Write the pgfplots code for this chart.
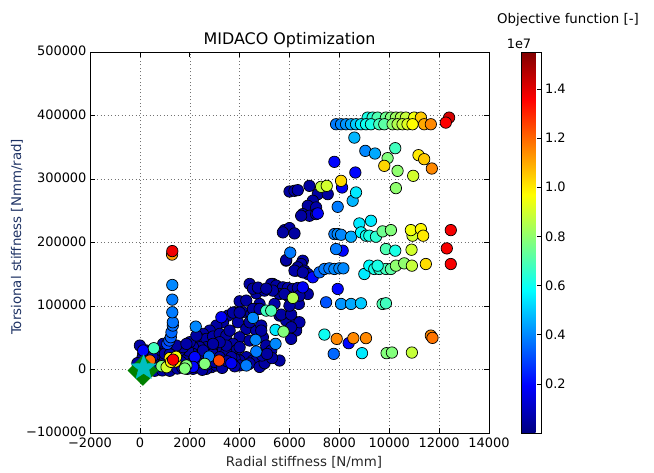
\documentclass[border=0pt]{standalone}
\usepackage{fontspec}
\setmainfont{DejaVu Sans}
\usepackage{pgfplots}
\usepackage{pgfplotstable}
\pgfplotsset{compat=1.18}
\definecolor{mgreen}{RGB}{0,128,0}
\definecolor{mcyan}{RGB}{0,191,191}
\definecolor{ylab}{RGB}{30,50,100}
\pgfdeclareplotmark{fstar}{%
  \pgfpathmoveto{\pgfpointpolar{90}{\pgfplotmarksize}}%
  \pgfpathlineto{\pgfpointpolar{126}{0.42\pgfplotmarksize}}%
  \pgfpathlineto{\pgfpointpolar{162}{\pgfplotmarksize}}%
  \pgfpathlineto{\pgfpointpolar{198}{0.42\pgfplotmarksize}}%
  \pgfpathlineto{\pgfpointpolar{234}{\pgfplotmarksize}}%
  \pgfpathlineto{\pgfpointpolar{270}{0.42\pgfplotmarksize}}%
  \pgfpathlineto{\pgfpointpolar{306}{\pgfplotmarksize}}%
  \pgfpathlineto{\pgfpointpolar{342}{0.42\pgfplotmarksize}}%
  \pgfpathlineto{\pgfpointpolar{18}{\pgfplotmarksize}}%
  \pgfpathlineto{\pgfpointpolar{54}{0.42\pgfplotmarksize}}%
  \pgfpathclose
  \pgfusepathqfillstroke
}
\pgfplotstableread{
x y c
4400 134700 0.05
4667 120000 0.05
5000 124200 0.06
5333 134700 0.05
5400 125200 0.05
5733 128400 0.06
6067 125200 0.05
6267 121600 0.05
5933 116300 0.06
6373 103200 0.05
6267 155600 0.05
5867 171400 0.06
4000 107400 0.05
3800 90100 0.05
4133 90100 0.06
3533 84900 0.05
3333 74400 0.05
3067 69200 0.05
2800 61300 0.06
2533 56100 0.05
2400 48200 0.05
2667 48200 0.05
2933 51900 0.06
3200 56100 0.05
3467 53450 0.05
3600 61300 0.05
3933 74400 0.06
4267 63900 0.05
4000 50800 0.05
3733 40350 0.05
3533 29900 0.06
3200 29900 0.05
2933 32500 0.05
2667 35100 0.05
2400 35100 0.05
2133 35100 0.06
2133 24600 0.05
2400 22000 0.05
2667 19400 0.05
2933 24600 0.06
3333 29900 0.05
3867 29900 0.05
4000 35100 0.05
4400 45600 0.05
4667 61300 0.06
4867 69200 0.05
4933 50800 0.05
5067 37700 0.05
5267 29900 0.06
5600 84900 0.05
5867 77000 0.05
6267 74400 0.05
6267 61300 0.05
6067 48200 0.06
4267 19400 0.05
4533 14150 0.05
4000 14150 0.05
3800 16800 0.05
2000 16800 0.06
1733 19400 0.05
1667 11500 0.05
1933 29900 0.05
1600 29900 0.05
800 29900 0.06
267 29900 0.05
133 24600 0.05
400 14150 0.05
800 14150 0.06
933 40350 0.05
1067 35100 0.05
667 14150 0.05
4800 103200 0.05
4600 95400 0.06
4467 87500 0.05
4400 74400 0.05
4267 108500 0.05
3467 27250 0.05
3667 19400 0.06
3400 8900 0.05
2867 3700 0.05
2267 6300 0.05
2133 1050 0.05
2667 1050 0.06
3067 6300 0.05
4000 6300 0.05
4667 14150 0.05
2400 14150 0.05
2800 11500 0.06
3200 19400 0.05
3467 37700 0.05
3200 43000 0.05
2933 40350 0.05
2533 29900 0.06
2000 43000 0.05
1733 35100 0.05
1333 29900 0.05
1467 37700 0.05
1867 40350 0.06
2267 53450 0.05
3733 89600 0.05
4000 89600 0.05
4533 95400 0.05
4800 95400 0.06
5667 86500 0.05
6067 86500 0.05
4867 61300 0.05
5600 14100 0.05
6400 74400 0.06
6067 66500 0.05
6800 289200 0.05
6000 280300 0.05
6200 281400 0.05
6333 282400 0.06
7133 276100 0.05
7533 276100 0.05
6933 265700 0.05
6733 257800 0.05
7067 255200 0.06
6533 244700 0.05
6800 242100 0.05
7067 244700 0.05
6467 242100 0.05
5800 219500 0.06
6000 222700 0.05
6200 214300 0.05
5733 215900 0.05
5867 172400 0.05
6533 171300 0.06
6467 166100 0.05
6333 160900 0.05
6600 155600 0.05
6733 150400 0.05
6200 155600 0.06
6533 152900 0.05
5267 134700 0.05
5467 132100 0.05
5733 129400 0.05
5933 128400 0.06
6133 126800 0.05
6333 128400 0.05
6733 118900 0.05
6400 116300 0.05
6000 113700 0.06
5600 118900 0.05
5333 124200 0.05
5800 118900 0.05
6000 100600 0.05
5400 103200 0.06
4533 127300 0.05
4733 129000 0.05
5067 127300 0.05
0 37700 0.06
200 8000 0.05
400 4000 0.05
600 9000 0.05
700 2000 0.06
900 7000 0.05
1000 20000 0.05
1100 3000 0.05
300 -3000 0.05
600 -2000 0.06
900 -1500 0.05
1200 -2000 0.05
1500 1500 0.05
1700 3000 0.06
1900 1000 0.05
2300 3500 0.05
2500 -500 0.05
1000 25000 0.05
500 20000 0.06
100 18000 0.05
-100 10000 0.05
1200 24000 0.05
2000 8000 0.05
2300 11000 0.06
2700 8000 0.05
3000 12000 0.05
3300 2500 0.05
3500 13000 0.05
3800 5000 0.06
4400 9500 0.05
4800 4000 0.05
5000 10000 0.05
5300 18000 0.05
4900 22000 0.06
5100 24500 0.05
3267 82300 0.18
3667 9900 0.18
2200 19400 0.2
8107 286600 0.18
8640 310200 0.2
7133 245800 0.18
8133 187100 0.2
6933 145200 0.2
6533 129400 0.18
7933 126800 0.2
8373 41400 0.2
7800 327000 0.2
133 29900 0.2
2133 4200 0.2
1100 40350 0.3
1180 45600 0.32
1240 50800 0.34
1267 58700 0.35
1320 69200 0.36
1320 74400 0.37
1300 90100 0.38
1300 110000 0.38
1300 133100 0.4
2240 67600 0.4
4533 81200 0.4
4640 46700 0.4
5440 40400 0.4
4667 28300 0.38
4267 6300 0.38
2773 20400 0.38
6030 184000 0.38
7933 256200 0.38
7800 213300 0.38
7933 213300 0.4
8067 212200 0.4
8467 209100 0.45
7867 189700 0.38
7200 153000 0.35
7400 158300 0.38
7600 159300 0.38
7800 158300 0.4
8000 159300 0.4
8160 159300 0.4
7467 105800 0.32
8067 103200 0.42
8467 103200 0.45
7773 24600 0.35
8600 365200 0.47
9040 344300 0.4
9427 340100 0.45
8533 265700 0.47
8667 278800 0.55
8800 230000 0.55
9267 234200 0.55
8867 215900 0.57
9067 210700 0.6
9000 150400 0.55
9200 163500 0.58
8867 104300 0.5
8907 25700 0.55
5440 62400 0.55
7400 55000 0.6
9200 210700 0.62
9467 209100 0.65
9400 158300 0.62
9600 158300 0.65
9867 158300 0.68
10067 158300 0.72
9533 163500 0.62
9867 189700 0.7
10240 187100 0.62
9733 103200 0.7
9867 104300 0.68
10240 348500 0.68
5067 92700 0.68
5267 92700 0.7
560 33500 0.68
9733 217500 0.75
10067 219500 0.78
10267 163500 0.8
10600 167100 0.8
9893 25700 0.78
10107 26700 0.78
9933 332800 0.78
10333 312800 0.8
10267 285600 0.8
5760 59700 0.78
1867 6300 0.78
2600 8900 0.78
870 5200 0.78
1800 1500 0.78
7267 287700 0.88
7493 289200 0.9
6133 112700 0.85
10933 210700 0.9
10893 188600 0.9
10907 163500 0.88
10907 26700 0.88
10960 305000 0.9
1070 3600 0.9
10867 219500 0.95
11267 221100 0.98
11360 210700 1.0
11467 166100 1.02
8067 297100 1.03
9800 320700 1.03
11173 337500 1.0
11400 331200 1.05
1200 18000 1.0
1420 12500 0.98
1250 12000 1.0
1450 20000 0.95
11707 316500 1.15
7893 48200 1.15
8560 49300 1.15
9067 49300 1.15
11667 53400 1.15
11733 49800 1.18
1290 181000 1.12
400 14100 1.2
3173 14100 1.25
1300 186500 1.38
1333 15500 1.36
12467 219500 1.37
12307 190700 1.37
12467 166100 1.37
9133 396700 0.62
9333 396700 0.65
9533 396700 0.7
9867 396700 0.75
10067 396700 0.78
10267 396700 0.82
10467 396700 0.85
10667 396700 0.88
11000 396700 0.95
11267 396700 1.05
12400 396700 1.42
7867 386200 0.38
8067 386200 0.4
8267 386200 0.42
8467 386200 0.45
8667 386200 0.5
8867 386200 0.55
9067 386200 0.6
9267 386200 0.62
9600 386200 0.68
9800 386200 0.72
10133 386200 0.8
10333 386200 0.85
10533 386200 0.88
10733 386200 0.92
10933 386200 0.97
11400 386200 1.1
11667 386200 1.15
12267 388800 1.36
}\datatable
\begin{document}
\begin{tikzpicture}[x=1bp,y=1bp]
\path (0,0) rectangle (654,473);
\begin{axis}[
  at={(90bp,40bp)}, anchor=south west,
  scale only axis, width=399bp, height=381bp,
  xmin=-2000, xmax=14000, ymin=-100000, ymax=500000,
  scaled x ticks=false, scaled y ticks=false,
  xtick={-2000,0,2000,4000,6000,8000,10000,12000,14000},
  xticklabels={−2000,0,2000,4000,6000,8000,10000,12000,14000},
  ytick={-100000,0,100000,200000,300000,400000,500000},
  yticklabels={−100000,0,100000,200000,300000,400000,500000},
  xticklabel style={yshift=-1.5bp},
  yticklabel style={yshift=1bp},
  tick align=inside, major tick length=5bp,
  tick style={black, line width=0.6bp},
  grid=major, major grid style={black!55, line width=0.5bp, dash pattern=on 1bp off 2.5bp},
  axis line style={black, line width=0.8bp},
  tick label style={font=\fontsize{13}{15}\selectfont},
  colormap/jet, point meta min=0, point meta max=1.55,
  colorbar,
  colorbar style={at={(parent axis.north east)}, anchor=north west, xshift=24bp, width=20bp,
    ytick={0.2,0.4,0.6,0.8,1.0,1.2,1.4}, yticklabels={0.2,0.4,0.6,0.8,1.0,1.2,1.4},
    ytick pos=right, yticklabel pos=right, tick align=inside, major tick length=5bp,
    tick style={black, line width=0.6bp}, axis line style={black, line width=0.8bp},
    tick label style={font=\fontsize{13}{15}\selectfont}},
]
\addplot[scatter, only marks, mark=*, mark size=5.7bp,
  scatter/use mapped color={draw=black, fill=mapped color, line width=0.7bp},
  point meta=explicit] table[x=x, y=y, meta=c] {\datatable};
\addplot[only marks, mark=square*, mark size=10.6bp, mark options={rotate=45, fill=mgreen, draw=mgreen}] coordinates {(120,-1500)};
\addplot[only marks, mark=fstar, mark size=13bp, mark options={fill=mcyan, draw=mcyan}] coordinates {(150,2500)};
\end{axis}
\node[font=\fontsize{16}{18}\selectfont] at (289.5,433) {MIDACO Optimization};
\node[font=\fontsize{13.4}{16}\selectfont, text=black!85] at (304,11) {Radial stiffness [N/mm]};
\node[font=\fontsize{13.4}{16}\selectfont, text=ylab, rotate=90] at (17,236) {Torsional stiffness [Nmm/rad]};
\node[font=\fontsize{13.4}{16}\selectfont] at (568,453) {Objective function [-]};
\node[font=\fontsize{13}{15}\selectfont] at (519,429) {1e7};
\end{tikzpicture}
\end{document}
